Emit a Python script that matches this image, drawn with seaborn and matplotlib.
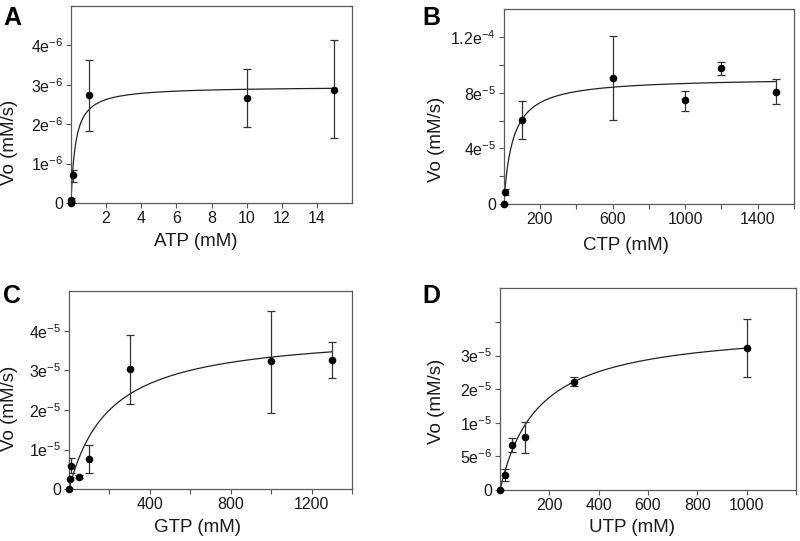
import numpy as np
import pandas as pd
import matplotlib
matplotlib.use("Agg")
import matplotlib.pyplot as plt
import seaborn as sns

sns.set_theme(style="white")
plt.rcParams['font.family'] = ['Liberation Sans', 'DejaVu Sans']
plt.rcParams['mathtext.fontset'] = 'custom'
plt.rcParams['mathtext.rm'] = 'Liberation Sans'
plt.rcParams['mathtext.default'] = 'regular'

# Panel A - ATP
atp_x = [0, 0.01, 0.1, 1, 10, 15]
atp_y = [0.01e-6, 0.085e-6, 0.70e-6, 2.73e-6, 2.67e-6, 2.88e-6]
atp_lo = [0.0, 0.05e-6, 0.53e-6, 1.82e-6, 1.92e-6, 1.65e-6]
atp_hi = [0.02e-6, 0.12e-6, 0.83e-6, 3.62e-6, 3.41e-6, 4.13e-6]
atp_vmax, atp_km = 2.96e-6, 0.254

# Panel B - CTP
ctp_x = [0, 5, 100, 600, 1000, 1200, 1500]
ctp_y = [0.0, 0.84e-5, 6.05e-5, 9.06e-5, 7.46e-5, 9.8e-5, 8.08e-5]
ctp_lo = [0.0, 0.62e-5, 4.66e-5, 6.05e-5, 6.7e-5, 9.3e-5, 7.2e-5]
ctp_hi = [0.0, 1.06e-5, 7.4e-5, 12.1e-5, 8.13e-5, 10.2e-5, 8.96e-5]
ctp_vmax, ctp_km = 9.1e-5, 50

# Panel C - GTP
gtp_x = [0, 5, 10, 50, 100, 300, 1000, 1300]
gtp_y = [0.0, 0.27e-5, 0.59e-5, 0.32e-5, 0.765e-5, 3.03e-5, 3.24e-5, 3.26e-5]
gtp_lo = [0.0, 0.24e-5, 0.40e-5, 0.29e-5, 0.40e-5, 2.14e-5, 1.93e-5, 2.81e-5]
gtp_hi = [0.0, 0.30e-5, 0.78e-5, 0.35e-5, 1.12e-5, 3.89e-5, 4.5e-5, 3.71e-5]
gtp_vmax, gtp_km = 4.0e-5, 200

# Panel D - UTP (y axis tick labels as printed in the figure)
utp_x = [0, 20, 50, 100, 300, 1000]
utp_y = [0.0, 2.3e-6, 6.75e-6, 7.9e-6, 1.61e-5, 2.11e-5]
utp_lo = [0.0, 1.33e-6, 5.7e-6, 5.5e-6, 1.55e-5, 1.685e-5]
utp_hi = [0.0, 3.05e-6, 7.7e-6, 1.01e-5, 1.68e-5, 2.54e-5]
utp_vmax, utp_km = 2.435e-5, 153.6
utp_ytick_labels = ['0', '5e$^{-6}$', '1e$^{-5}$', '2e$^{-5}$', '3e$^{-5}$', '']

W, H = 800, 541
fig = plt.figure(figsize=(8, 5.41), dpi=100)


def px_axes(left, top, right, bottom):
    return fig.add_axes([left / W, 1 - bottom / H, (right - left) / W, (bottom - top) / H])


def ftext(x, y, s, **kw):
    fig.text(x / W, 1 - y / H, s, **kw)


def draw_panel(ax, x, y, lo, hi, vmax, km, xmax):
    x = np.array(x)
    y = np.array(y)
    yerr = np.vstack([y - np.array(lo), np.array(hi) - y])
    xf = np.linspace(0, xmax, 400)
    fit = pd.DataFrame({'x': xf, 'v': vmax * xf / (km + xf)})
    sns.lineplot(data=fit, x='x', y='v', ax=ax, color='#222222', lw=0.9)
    ax.errorbar(x, y, yerr=yerr, fmt='none', ecolor='#333333', elinewidth=0.9,
                capsize=3, capthick=0.9, zorder=3)
    pts = pd.DataFrame({'x': x, 'y': y})
    sns.scatterplot(data=pts, x='x', y='y', ax=ax, color='black', s=30,
                    edgecolor='black', linewidth=0, zorder=4, clip_on=False)
    ax.set_xlabel('')
    ax.set_ylabel('')
    for sp in ax.spines.values():
        sp.set_visible(True)
        sp.set_color('#5a5a5a')
        sp.set_linewidth(0.9)
    ax.tick_params(axis='both', which='both', direction='out', length=3.5, width=0.8,
                   color='#5a5a5a', labelsize=11.5, labelcolor='#1a1a1a', pad=2,
                   left=True, bottom=True, top=False, right=False)


# A
axA = px_axes(71, 6, 352, 203)
draw_panel(axA, atp_x, atp_y, atp_lo, atp_hi, atp_vmax, atp_km, 15)
axA.set_xlim(0, 16)
axA.set_ylim(0, 5e-6)
axA.set_xticks([2, 4, 6, 8, 10, 12, 14])
axA.set_xticklabels(['2', '4', '6', '8', '10', '12', '14'])
axA.set_yticks([0, 1e-6, 2e-6, 3e-6, 4e-6])
axA.set_yticklabels(['0', '1e$^{-6}$', '2e$^{-6}$', '3e$^{-6}$', '4e$^{-6}$'])

# B
axB = px_axes(503.7, 9.3, 794, 204)
draw_panel(axB, ctp_x, ctp_y, ctp_lo, ctp_hi, ctp_vmax, ctp_km, 1500)
axB.set_xlim(0, 1600)
axB.set_ylim(0, 1.4e-4)
axB.set_xticks([200, 400, 600, 800, 1000, 1200, 1400, 1600])
axB.set_xticklabels(['200', '', '600', '', '1000', '', '1400', ''])
axB.set_yticks([0, 2e-5, 4e-5, 6e-5, 8e-5, 1e-4, 1.2e-4])
axB.set_yticklabels(['0', '', '4e$^{-5}$', '', '8e$^{-5}$', '', '1.2e$^{-4}$'])

# C
axC = px_axes(69, 291, 352.3, 489.3)
draw_panel(axC, gtp_x, gtp_y, gtp_lo, gtp_hi, gtp_vmax, gtp_km, 1300)
axC.set_xlim(0, 1400)
axC.set_ylim(0, 5e-5)
axC.set_xticks([200, 400, 600, 800, 1000, 1200, 1400])
axC.set_xticklabels(['', '400', '', '800', '', '1200', ''])
axC.set_yticks([0, 1e-5, 2e-5, 3e-5, 4e-5])
axC.set_yticklabels(['0', '1e$^{-5}$', '2e$^{-5}$', '3e$^{-5}$', '4e$^{-5}$'])

# D
axD = px_axes(500, 288.3, 796, 490)
draw_panel(axD, utp_x, utp_y, utp_lo, utp_hi, utp_vmax, utp_km, 1000)
axD.set_xlim(0, 1200)
axD.set_ylim(0, 3e-5)
axD.set_xticks([200, 400, 600, 800, 1000, 1200])
axD.set_xticklabels(['200', '400', '600', '800', '1000', ''])
axD.set_yticks([0, 5e-6, 1e-5, 1.5e-5, 2e-5, 2.5e-5])
axD.set_yticklabels(utp_ytick_labels)

# axis labels
lab = dict(fontsize=13.5, color='#1a1a1a', ha='center', va='center')
ftext(9, 142.5, 'Vo (mM/s)', rotation=90, **lab)
ftext(196, 241.7, 'ATP (mM)', **lab)
ftext(436, 139, 'Vo (mM/s)', rotation=90, **lab)
ftext(626, 245, 'CTP (mM)', **lab)
ftext(9, 408, 'Vo (mM/s)', rotation=90, **lab)
ftext(197, 527, 'GTP (mM)', **lab)
ftext(436, 401.5, 'Vo (mM/s)', rotation=90, **lab)
ftext(631.7, 527, 'UTP (mM)', **lab)

# panel letters
let = dict(fontsize=18, fontweight='bold', color='black', ha='left', va='baseline')
ftext(3, 25, 'A', **let)
ftext(422, 25, 'B', **let)
ftext(3, 303, 'C', **let)
ftext(422, 303, 'D', **let)

fig.savefig('out.png', dpi=100)
